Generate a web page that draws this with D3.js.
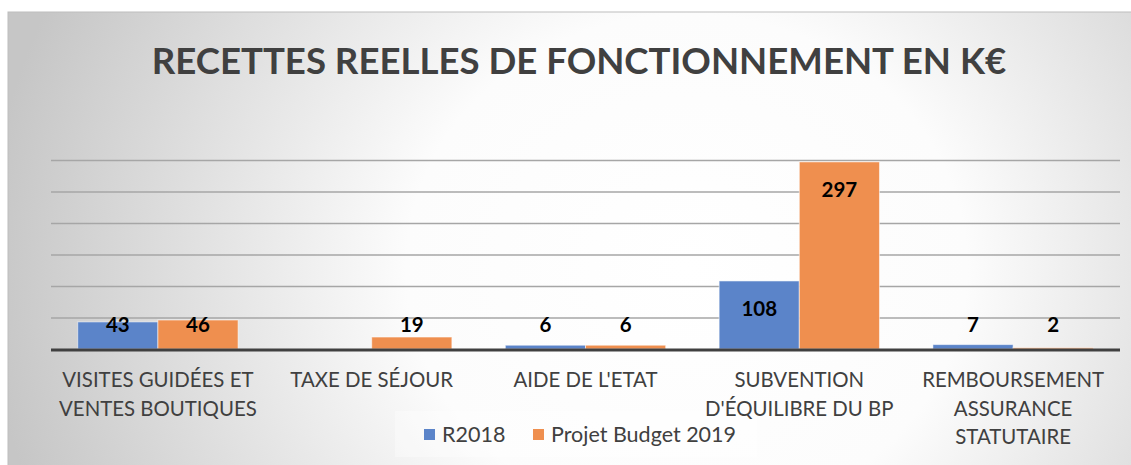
<html>
<head>
<script src="https://d3js.org/d3.v7.min.js"></script>
<style>
    body { margin: 0; background: #fff; }
    text { font-family: Lato, "Open Sans", sans-serif; }
    .grid line { stroke: #a6a6a6; stroke-width: 1.5; }
    .grid path { display: none; }
</style>
</head>
<body>
<div id="chart"></div>
<script>
    // Data
    const categories = [
        ['VISITES GUIDÉES ET', 'VENTES BOUTIQUES'],
        ['TAXE DE SÉJOUR'],
        ["AIDE DE L'ETAT"],
        ['SUBVENTION', "D'ÉQUILIBRE DU BP"],
        ['REMBOURSEMENT', 'ASSURANCE', 'STATUTAIRE']
    ];
    const seriesNames = ['R2018', 'Projet Budget 2019'];
    const r2018 = [43, 0, 6, 108, 7];
    const budget2019 = [46, 19, 6, 297, 2];
    const gridValues = [50, 100, 150, 200, 250, 300];
    const colors = ['#5b84c9', '#ef8f4f'];

    const W = 1131, H = 465;
    const plot = { left: 51, right: 1120, top: 160, bottom: 349 };

    const keys = categories.map(c => c.join(' '));
    const table = keys.map((k, i) => ({ key: k, lines: categories[i], values: [r2018[i], budget2019[i]] }));

    const svg = d3.select('#chart').append('svg')
        .attr('width', W)
        .attr('height', H);

    // background gradient like the office chart
    const defs = svg.append('defs');
    const grad = defs.append('radialGradient')
        .attr('id', 'bg')
        .attr('cx', '0.6').attr('cy', '0.55').attr('r', '0.62')
        .attr('gradientTransform', 'translate(0.6,0.55) scale(1,2.2) translate(-0.6,-0.55)');
    grad.append('stop').attr('offset', '0%').attr('stop-color', '#ffffff');
    grad.append('stop').attr('offset', '40%').attr('stop-color', '#fcfcfc');
    grad.append('stop').attr('offset', '100%').attr('stop-color', '#c6c6c6');

    svg.append('rect')
        .attr('x', 8).attr('y', 12)
        .attr('width', W).attr('height', H)
        .attr('fill', 'url(#bg)')
        .attr('stroke', '#bdbdbd')
        .attr('stroke-width', 1);

    // title
    svg.append('text')
        .attr('x', 579).attr('y', 60)
        .attr('text-anchor', 'middle')
        .attr('dominant-baseline', 'central')
        .attr('font-size', 36.6)
        .attr('font-weight', 'bold')
        .attr('fill', '#404040')
        .text('RECETTES REELLES DE FONCTIONNEMENT EN K€');

    // scales
    const x0 = d3.scaleBand()
        .domain(keys)
        .range([plot.left, plot.right])
        .paddingInner(0.25)
        .paddingOuter(0.125);
    const x1 = d3.scaleBand()
        .domain([0, 1])
        .range([0, x0.bandwidth()]);
    const y = d3.scaleLinear()
        .domain([0, 300])
        .range([plot.bottom, plot.top]);

    // gridlines
    svg.append('g')
        .attr('class', 'grid')
        .attr('transform', `translate(${plot.left},0)`)
        .call(d3.axisLeft(y).tickValues(gridValues).tickSize(-(plot.right - plot.left)).tickFormat(''));

    // bars
    const groups = svg.selectAll('.group')
        .data(table)
        .enter().append('g')
        .attr('transform', d => `translate(${x0(d.key)},0)`);

    groups.selectAll('rect')
        .data(d => d.values.map((v, i) => ({ v, i })))
        .enter().append('rect')
        .attr('x', d => x1(d.i))
        .attr('y', d => y(d.v))
        .attr('width', x1.bandwidth())
        .attr('height', d => y(0) - y(d.v))
        .attr('fill', d => colors[d.i])
        .attr('stroke', d => d.v > 0 ? 'rgba(255,255,255,0.55)' : 'none')
        .attr('stroke-width', 1);

    // data labels (inside end, pushed above when the bar is short)
    groups.selectAll('.lbl')
        .data(d => d.values.map((v, i) => ({ v, i })).filter(d => d.v > 0))
        .enter().append('text')
        .attr('class', 'lbl')
        .attr('x', d => x1(d.i) + x1.bandwidth() / 2)
        .attr('y', d => Math.min(y(d.v) + 27, y(0) - 25))
        .attr('text-anchor', 'middle')
        .attr('dominant-baseline', 'central')
        .attr('font-size', 20.5)
        .attr('font-weight', 'bold')
        .attr('fill', '#000')
        .text(d => d.v);

    // axis line at zero
    svg.append('line')
        .attr('x1', plot.left).attr('x2', plot.right)
        .attr('y1', y(0) + 1).attr('y2', y(0) + 1)
        .attr('stroke', '#404040')
        .attr('stroke-width', 3);

    // legend box
    const legend = svg.append('g');
    legend.append('rect')
        .attr('x', 395).attr('y', 411)
        .attr('width', 362).attr('height', 46)
        .attr('fill', 'rgba(255,255,255,0.35)');
    const legendX = [424, 533];
    seriesNames.forEach((name, i) => {
        legend.append('rect')
            .attr('x', legendX[i]).attr('y', 429)
            .attr('width', 11).attr('height', 11)
            .attr('fill', colors[i]);
        legend.append('text')
            .attr('x', legendX[i] + 18).attr('y', 434)
            .attr('dominant-baseline', 'central')
            .attr('font-size', 21.5)
            .attr('fill', '#404040')
            .text(name);
    });

    // category labels
    const catLabels = svg.selectAll('.cat')
        .data(table)
        .enter().append('text')
        .attr('class', 'cat')
        .attr('text-anchor', 'middle')
        .attr('font-size', 20.4)
        .attr('fill', '#404040');
    catLabels.selectAll('tspan')
        .data(d => d.lines.map(l => ({ l, x: x0(d.key) + x0.bandwidth() / 2 })))
        .enter().append('tspan')
        .attr('x', d => d.x)
        .attr('y', (d, i) => 387 + i * 28.5)
        .text(d => d.l);
</script>
</body>
</html>
